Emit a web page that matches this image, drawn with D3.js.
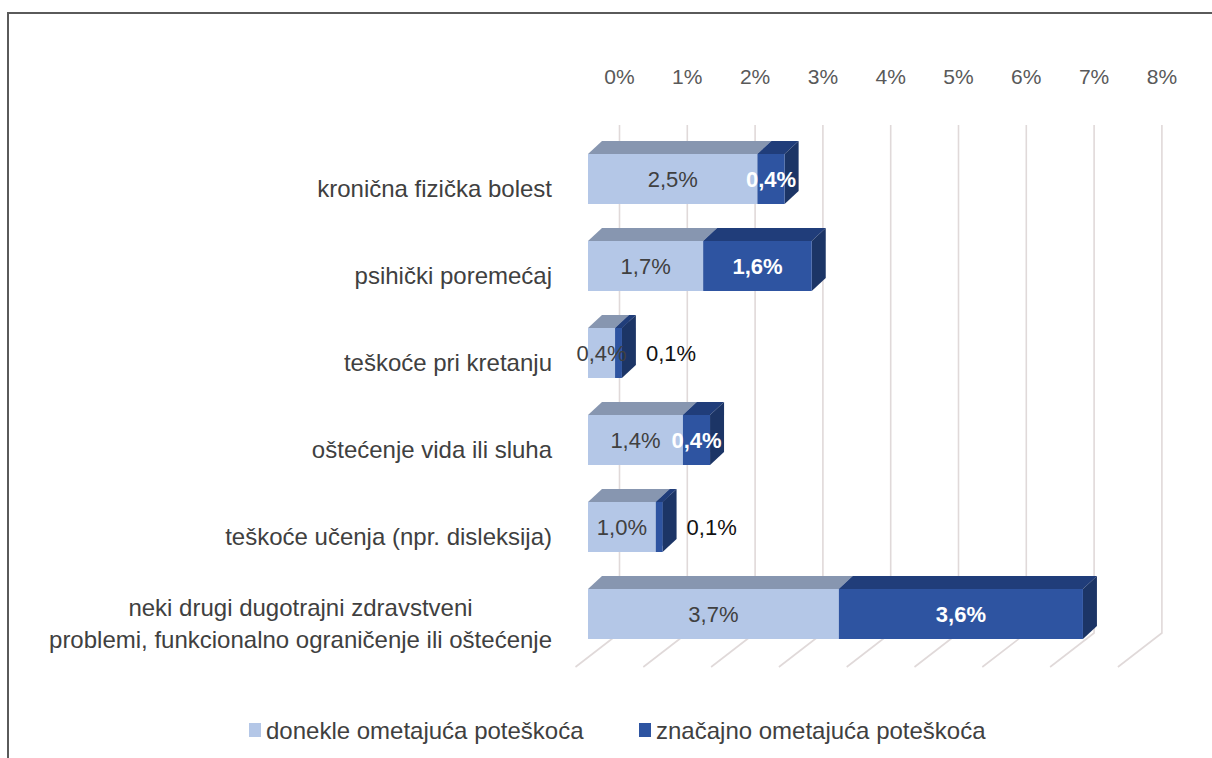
<!DOCTYPE html>
<html>
<head>
<meta charset="utf-8">
<script src="https://cdn.jsdelivr.net/npm/d3@7"></script>
<style>
  body { margin: 0; background: #fff; }
  text { font-family: 'Liberation Sans Narrow', 'Liberation Sans', sans-serif; }
</style>
</head>
<body>
<svg id="chart" width="1212" height="758"></svg>
<script>
// data
const categories = [
  'kronična fizička bolest',
  'psihički poremećaj',
  'teškoće pri kretanju',
  'oštećenje vida ili sluha',
  'teškoće učenja (npr. disleksija)',
  'neki drugi dugotrajni zdravstveni|problemi, funkcionalno ograničenje ili oštećenje'
]
const seriesNames = ['donekle ometajuća poteškoća', 'značajno ometajuća poteškoća']
const donekle = [2.5, 1.7, 0.4, 1.4, 1.0, 3.7]
const znacajno = [0.4, 1.6, 0.1, 0.4, 0.1, 3.6]
const tickValues = [0, 1, 2, 3, 4, 5, 6, 7, 8]

const fmt = v => d3.format('.1f')(v).replace('.', ',') + '%'

const colors = [
  { front: '#b4c7e7', top: '#8796b0', side: '#7c8db0' },
  { front: '#2e54a1', top: '#203d7a', side: '#1c3566' }
]

const svg = d3.select('#chart')

// frame
svg.append('path')
  .attr('d', 'M8,758V13H1212')
  .attr('fill', 'none')
  .attr('stroke', '#5a5a5a')
  .attr('stroke-width', 2)

//
const x = d3.scaleLinear().domain([0, 8]).range([588, 588 + 8 * 67.8])
const y = d3.scaleBand()
  .domain(categories)
  .range([135.5, 135.5 + 6 * 87])
  .paddingInner(37 / 87)
  .paddingOuter(37 / 87 / 2)

const back = 31.5 // back wall shift
const dx = 14
const dy = -13
const wallTop = 125
const wallBottom = 633
const floor = { dx: -44, dy: 34 }

// back wall + floor grid
const grid = svg.append('g')
grid.selectAll('path')
  .data(tickValues)
  .join('path')
  .attr('d', d => {
    const xb = x(d) + back
    return `M${xb},${wallTop}V${wallBottom}L${xb + floor.dx},${wallBottom + floor.dy}`
  })
  .attr('fill', 'none')
  .attr('stroke', '#e0d9d9')
  .attr('stroke-width', 1.6)

// top axis labels
svg.append('g').selectAll('text')
  .data(tickValues)
  .join('text')
  .attr('x', d => x(d) + back)
  .attr('y', 76)
  .attr('text-anchor', 'middle')
  .attr('dominant-baseline', 'central')
  .attr('font-size', 21)
  .attr('fill', '#595959')
  .text(d => d + '%')

// stacked segments
const segs = []
categories.forEach((c, i) => {
  let x0 = 0
  ;[donekle[i], znacajno[i]].forEach((v, s) => {
    segs.push({ cat: c, s, v, x0, x1: x0 + v })
    x0 += v
  })
})

const bars = svg.append('g')
segs.forEach(d => {
  const g = bars.append('g')
  const l = x(d.x0)
  const r = x(d.x1)
  const t = y(d.cat)
  const b = t + y.bandwidth()
  g.append('path')
    .attr('d', `M${l},${t}L${r},${t}L${r + dx},${t + dy}L${l + dx},${t + dy}Z`)
    .attr('fill', colors[d.s].top)
  g.append('path')
    .attr('d', `M${r},${t}L${r + dx},${t + dy}L${r + dx},${b + dy}L${r},${b}Z`)
    .attr('fill', colors[d.s].side)
  g.append('rect')
    .attr('x', l)
    .attr('y', t)
    .attr('width', r - l)
    .attr('height', y.bandwidth())
    .attr('fill', colors[d.s].front)
})

// value labels
svg.append('g').selectAll('text')
  .data(segs)
  .join('text')
  .attr('x', d => {
    if (d.s === 1 && d.v < 0.3) return x(d.x1) + dx + 10
    return (x(d.x0) + x(d.x1)) / 2
  })
  .attr('y', d => y(d.cat) + y.bandwidth() / 2)
  .attr('text-anchor', d => (d.s === 1 && d.v < 0.3) ? 'start' : 'middle')
  .attr('dominant-baseline', 'central')
  .attr('font-size', 22)
  .attr('font-weight', d => (d.s === 1 && d.v >= 0.3) ? 'bold' : 'normal')
  .attr('fill', d => d.s === 0 ? '#404040' : (d.v >= 0.3 ? '#fff' : '#111'))
  .text(d => fmt(d.v))

// category labels
const labels = svg.append('g')
categories.forEach(c => {
  const lines = c.split('|')
  const cy = y(c) + y.bandwidth() / 2 + 9
  const txt = labels.append('text')
    .attr('font-size', 24)
    .attr('fill', '#404040')
    .attr('dominant-baseline', 'central')
  if (lines.length === 1) {
    txt.attr('x', 552).attr('y', cy).attr('text-anchor', 'end').text(c)
  } else {
    const lh = 32
    txt.attr('text-anchor', 'middle')
    const spans = lines.map((ln, k) => txt.append('tspan')
      .attr('y', cy + (k - (lines.length - 1) / 2) * lh)
      .text(ln))
    const w = d3.max(spans, s => s.node().getComputedTextLength())
    spans.forEach(s => s.attr('x', 552 - w / 2))
  }
})

// legend
const legendX = [249, 639]
const legend = svg.append('g')
seriesNames.forEach((n, i) => {
  legend.append('rect')
    .attr('x', legendX[i])
    .attr('y', 723)
    .attr('width', 12)
    .attr('height', 14)
    .attr('fill', colors[i].front)
  legend.append('text')
    .attr('x', legendX[i] + 17)
    .attr('y', 730)
    .attr('dominant-baseline', 'central')
    .attr('font-size', 24)
    .attr('fill', '#404040')
    .text(n)
})
</script>
</body>
</html>
